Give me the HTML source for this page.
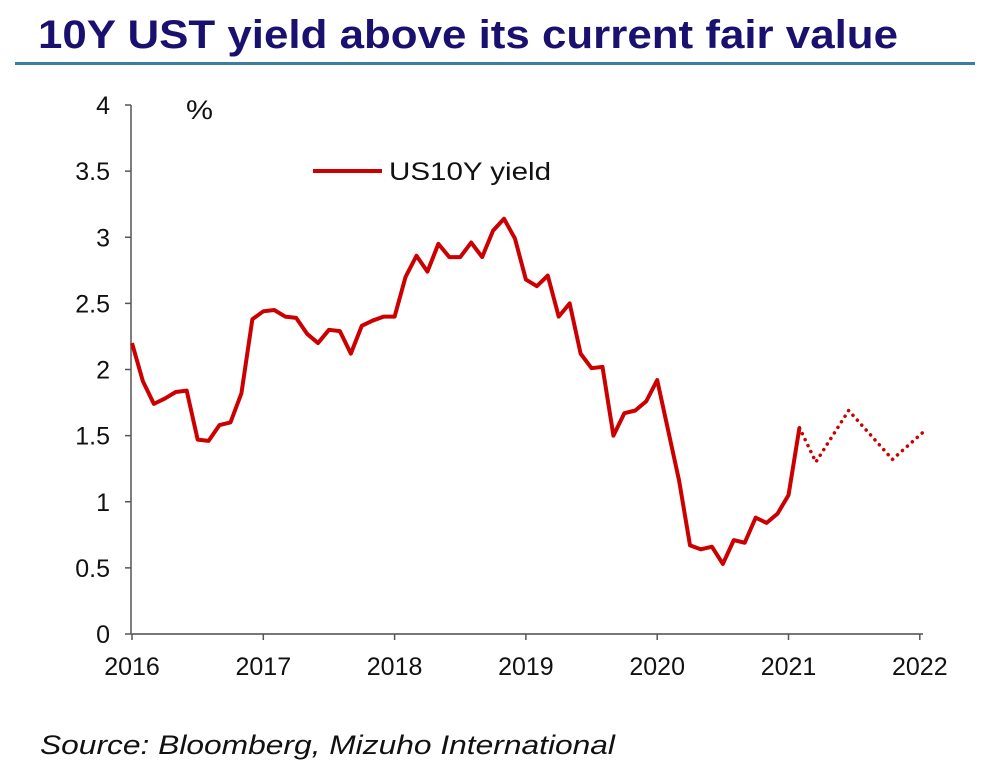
<!DOCTYPE html>
<html><head><meta charset="utf-8"><style>
html,body{margin:0;padding:0;background:#fff;}
svg{display:block;font-family:"Liberation Sans",Arial,sans-serif;}
</style></head><body>
<svg id="chart" width="993" height="784" viewBox="0 0 993 784" xmlns="http://www.w3.org/2000/svg">
<text x="38" y="48" font-size="40" font-weight="bold" fill="#1a1070" textLength="860" lengthAdjust="spacingAndGlyphs">10Y UST yield above its current fair value</text>
<rect x="15" y="62" width="960" height="3" fill="#3a7fa3"/>
<g id="axes"></g>
<text x="186" y="119" font-size="27" fill="#111" textLength="27" lengthAdjust="spacingAndGlyphs">%</text>
<line x1="313" y1="171" x2="382" y2="171" stroke="#cc0000" stroke-width="4"/>
<text x="389" y="180" font-size="25" fill="#111" textLength="162" lengthAdjust="spacingAndGlyphs">US10Y yield</text>
<g id="series"></g>
<text x="40" y="754" font-size="27" font-style="italic" fill="#111" textLength="575" lengthAdjust="spacingAndGlyphs">Source: Bloomberg, Mizuho International</text>
</svg>
<script>
const yTicks=[0,0.5,1,1.5,2,2.5,3,3.5,4];
const yTickLabels=["0","0.5","1","1.5","2","2.5","3","3.5","4"];
const xTicks=[2016,2017,2018,2019,2020,2021,2022];
const actualYields=[2.20,1.91,1.74,1.78,1.83,1.84,1.47,1.46,1.58,1.60,1.82,2.38,
2.44,2.45,2.40,2.39,2.27,2.20,2.30,2.29,2.12,2.33,2.37,2.40,
2.40,2.70,2.86,2.74,2.95,2.85,2.85,2.96,2.85,3.05,3.14,2.99,
2.68,2.63,2.71,2.40,2.50,2.12,2.01,2.02,1.50,1.67,1.69,1.76,
1.92,1.54,1.16,0.67,0.64,0.66,0.53,0.71,0.69,0.88,0.84,0.91,
1.05,1.56];
const forecastMonths=[61,62.5,65.5,69.5,72.5];
const forecastYields=[1.56,1.30,1.69,1.32,1.54];

const NS="http://www.w3.org/2000/svg";
const X0=132, PX_YEAR=131.3, Y0=634, PX_UNIT=132.25;
const xm=m=>X0+m*PX_YEAR/12;
const xy=yr=>X0+(yr-2016)*PX_YEAR;
const yv=v=>Y0-v*PX_UNIT;
function mk(tag,attrs,parent){const e=document.createElementNS(NS,tag);for(const k in attrs)e.setAttribute(k,attrs[k]);parent.appendChild(e);return e;}
const axes=document.getElementById('axes'), series=document.getElementById('series');
let e=mk('line',{x1:131,y1:yv(4),x2:131,y2:Y0,stroke:'#555','stroke-width':1.5},axes);


e=mk('line',{x1:131,y1:Y0,x2:923,y2:Y0,stroke:'#777','stroke-width':2},axes);


yTicks.forEach((v,i)=>{
 const t=mk('line',{x1:125,y1:yv(v),x2:131,y2:yv(v),stroke:'#555','stroke-width':1.5},axes);
 
 
 const l=mk('text',{x:110,y:yv(v)+9,'text-anchor':'end','font-size':25,fill:'#111'},axes);
 l.textContent=yTickLabels[i];
 
 
});
xTicks.forEach(yr=>{
 const x=xy(yr);
 const t=mk('line',{x1:x,y1:Y0,x2:x,y2:Y0+6,stroke:'#555','stroke-width':1.5},axes);
 
 
 const l=mk('text',{x:x,y:675,'text-anchor':'middle','font-size':25,fill:'#111'},axes);
 l.textContent=String(yr);
 
 
});
const p1=mk('polyline',{points:actualYields.map((v,i)=>xm(i)+','+yv(v)).join(' '),fill:'none',stroke:'#cc0000','stroke-width':4,'stroke-linejoin':'round'},series);


const p2=mk('polyline',{points:forecastMonths.map((m,i)=>xm(m)+','+yv(forecastYields[i])).join(' '),fill:'none',stroke:'#cc0000','stroke-width':3.5,'stroke-linecap':'round','stroke-dasharray':'0.1 6.5'},series);


</script>
</body></html>
